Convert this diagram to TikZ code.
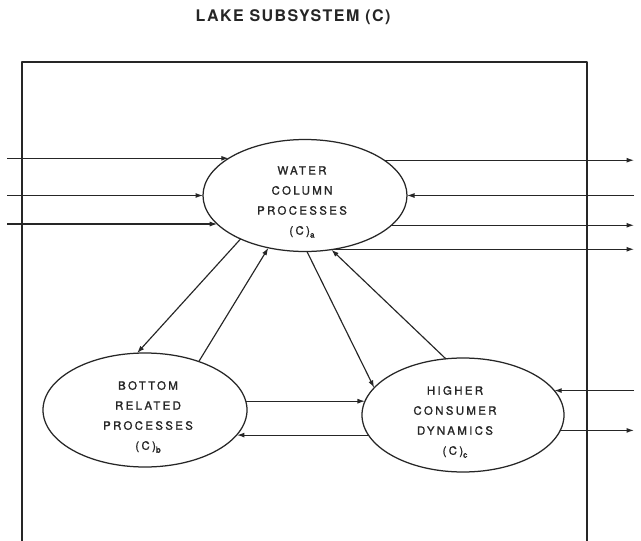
\documentclass[tikz,border=0pt]{standalone}
\usepackage{fontspec}
\setmainfont{TeX Gyre Heros}
\newfontfamily\lblfont[LetterSpace=20,FakeBold=1.2]{TeX Gyre Heros}
\newfontfamily\ttlfont[LetterSpace=9]{TeX Gyre Heros}
\usetikzlibrary{shapes.geometric,arrows.meta}
% lowered small letter used as a subscript in the process labels
\newcommand\lowsub[1]{\raisebox{-3pt}{\fontsize{8.5}{8.5}\selectfont #1}}
\begin{document}
\begin{tikzpicture}[x=1pt,y=-1pt,line join=round,
  ink/.style={draw=black!85,line width=1.15pt},
  proc/.style={ellipse,draw=black!85,line width=1.25pt,inner sep=0pt,outer sep=0pt},
  lbl/.style={align=center,font=\lblfont\fontsize{11.5}{20}\selectfont,text=black!85,inner sep=0pt},
  arr/.style={ink,-{Latex[length=7.5pt,width=5pt]}},
]
\useasboundingbox (0,0) rectangle (641,541);
\fill[white] (0,0) rectangle (641,541);

% title
\node[font=\ttlfont\bfseries\fontsize{16}{16}\selectfont,text=black!85,inner sep=0pt] (title) at (293,17) {LAKE SUBSYSTEM (C)};

% subsystem boundary (open at the bottom edge)
\draw[ink,line width=1.3pt] (22,541) -- (22,62) -- (587,62) -- (587,541);

% process ellipses
\node[proc,minimum width=204pt,minimum height=112pt] (wc) at (305,195.5) {};
\node[proc,minimum width=204pt,minimum height=114pt] (bp) at (145,410) {};
\node[proc,minimum width=202pt,minimum height=114pt] (hc) at (463,415) {};

\node[lbl] (wct) at (302,202) {WATER\\COLUMN\\PROCESSES\\(C)\lowsub{a}};
\node[lbl] (bpt) at (148,417) {BOTTOM\\RELATED\\PROCESSES\\(C)\lowsub{b}};
\node[lbl] (hct) at (455,422) {HIGHER\\CONSUMER\\DYNAMICS\\(C)\lowsub{c}};

% free ends of the external flows
\coordinate (inL) at (7,0);
\coordinate (outR) at (634,0);

% external flows of the water column
\draw[arr] (wc.154 -| inL) -- (wc.154);
\draw[arr] (wc.180 -| inL) -- (wc.180);
\draw[arr] (wc.198 -| inL) -- (wc.198);
\draw[arr] (wc.24) -- (wc.24 -| outR);
\draw[arr] (wc.0 -| outR) -- (wc.0);
\draw[arr] (wc.341) -- (wc.341 -| outR);
\draw[arr] (wc.298) -- (wc.298 -| outR);

% internal exchanges
\draw[arr] (wc.214) -- (bp.98);
\draw[arr] (bp.42) -- (wc.235);
\draw[arr] (wc.272) -- (hc.163);
\draw[arr] (hc.107) -- (wc.296);
\draw[arr] (bp.5) -- (bp.5 -| hc.172);
\draw[arr] (hc.192) -- (hc.192 -| bp.345);

% external flows of the higher consumers
\draw[arr] (hc.15 -| outR) -- (hc.15);
\draw[arr] (hc.351) -- (hc.351 -| outR);
\end{tikzpicture}
\end{document}
